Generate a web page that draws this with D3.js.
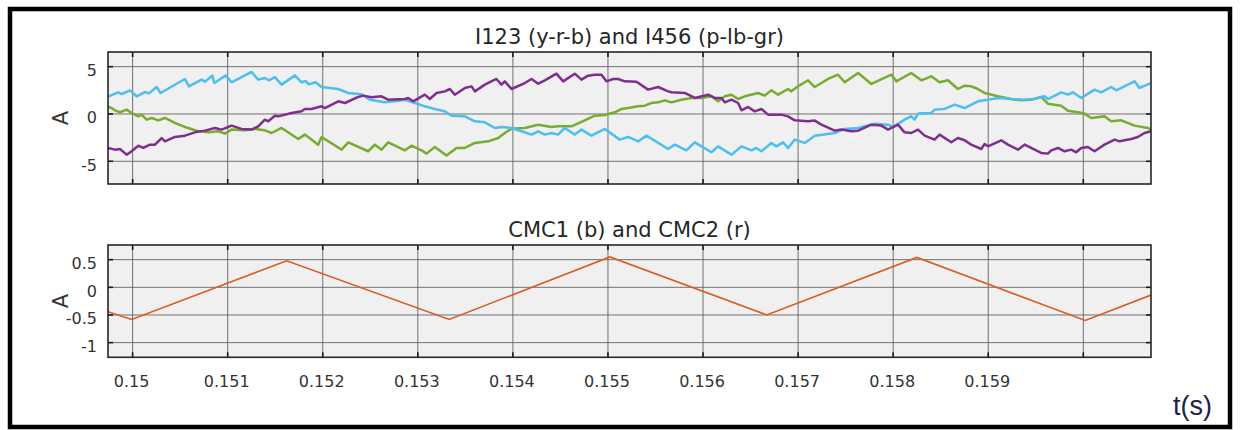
<!DOCTYPE html>
<html>
<head>
<meta charset="utf-8">
<script src="https://cdn.jsdelivr.net/npm/d3@7"></script>
<style>
  html, body { margin: 0; padding: 0; background: #ffffff; }
  svg { display: block; }
</style>
</head>
<body>
<div id="chart"></div>
<script>
// ---------- DATA (time in ms, current in A) ----------
const xTickValues = [0.150, 0.151, 0.152, 0.153, 0.154, 0.155, 0.156, 0.157, 0.158, 0.159, 0.160];
const xTickLabels = ["0.15", "0.151", "0.152", "0.153", "0.154", "0.155", "0.156", "0.157", "0.158", "0.159", ""];
const topYTicks = [5, 0, -5];
const botYTicks = [0.5, 0, -0.5, -1];
const topTitle = "I123 (y-r-b) and I456 (p-lb-gr)";
const botTitle = "CMC1 (b) and CMC2 (r)";
const yLabel = "A";
const xLabel = "t(s)";

const currentBlue = [
[149.740,1.83],[149.849,2.29],[149.884,2.11],[149.972,2.50],[150.042,1.87],[150.130,2.32],[150.172,2.18],[150.252,2.85],[150.294,2.22],[150.550,3.70],[150.592,2.92],[150.725,3.63],[150.761,3.42],[150.838,4.05],[150.859,3.27],[150.978,4.05],[151.041,3.35],[151.251,4.44],[151.321,3.63],[151.391,3.80],[151.433,3.56],[151.497,3.90],[151.567,3.10],[151.707,4.08],[151.777,3.35],[151.819,3.49],[151.854,3.13],[151.924,3.35],[151.987,2.85],[152.163,2.64],[152.268,2.22],[152.408,2.08],[152.496,1.51],
[152.653,1.23],[152.758,1.34],[152.864,1.51],[152.969,1.16],[153.074,0.81],[153.179,0.53],[153.284,0.28],[153.354,-0.18],[153.495,-0.25],[153.600,-0.77],[153.705,-0.88],[153.810,-1.48],[153.880,-1.37],[153.985,-1.48],[154.090,-1.83],[154.196,-2.18],[154.266,-1.83],[154.336,-2.18],[154.406,-2.01],[154.476,-2.18],[154.546,-1.48],[154.651,-2.18],[154.721,-1.65],[154.826,-2.29],[154.967,-1.58],[155.124,-2.71],[155.212,-2.43],
[155.317,-2.90],[155.405,-2.29],[155.633,-3.70],[155.703,-3.24],[155.825,-3.84],[155.913,-3.00],[156.088,-4.05],[156.158,-3.42],[156.299,-4.30],[156.404,-3.42],[156.509,-3.84],[156.561,-3.59],[156.614,-3.94],[156.719,-3.06],[156.772,-3.42],[156.842,-3.00],[156.894,-3.59],[156.965,-2.71],[157.070,-3.06],[157.175,-2.29],[157.385,-2.01],[157.490,-1.58],[157.631,-1.48],[157.806,-1.02],[157.946,-1.13],
[157.998,-1.37],[158.120,-0.60],[158.190,-0.25],[158.225,-0.60],[158.261,0.04],[158.401,0.11],[158.436,0.46],[158.541,0.53],[158.646,0.99],[158.751,0.63],[158.891,1.34],[158.997,1.51],[159.102,1.69],[159.242,1.58],[159.382,1.51],[159.487,1.58],[159.592,1.87],[159.627,1.58],[159.768,2.29],[159.838,2.04],[159.890,2.29],[159.978,1.69],[160.118,2.57],[160.188,2.29],[160.293,2.85],[160.346,2.50],[160.539,3.45],[160.591,2.75],[160.712,3.27]
];

const currentPurple = [
[149.740,-3.59],[149.814,-3.77],[149.867,-3.70],[149.937,-4.30],[149.989,-3.94],[150.060,-3.35],[150.112,-3.59],[150.182,-3.24],[150.235,-3.24],[150.305,-2.54],[150.340,-2.89],[150.445,-2.43],[150.550,-2.29],[150.655,-1.94],[150.761,-1.76],[150.866,-1.48],[150.936,-1.65],[151.041,-1.23],[151.146,-1.58],[151.251,-1.65],[151.321,-1.30],[151.391,-0.60],[151.426,-0.77],[151.497,-0.18],[151.532,-0.25],[151.672,0.11],[151.777,0.28],[151.812,0.53],[151.882,0.53],[151.987,0.81],[152.022,0.63],[152.163,1.34],[152.233,1.16],[152.373,1.80],[152.425,1.94],[152.513,1.76],
[152.618,1.87],[152.688,1.51],[152.864,1.58],[152.899,1.69],[152.951,1.34],[153.074,2.04],[153.126,1.58],[153.197,2.22],[153.284,2.39],[153.337,2.64],[153.389,2.04],[153.495,2.75],[153.565,2.92],[153.600,2.39],[153.705,3.10],[153.827,3.70],[153.880,3.10],[153.915,3.45],[153.985,2.64],[154.125,3.27],[154.196,3.70],[154.266,3.20],[154.336,3.56],[154.458,4.26],[154.529,3.45],[154.651,4.26],[154.721,3.63],[154.791,4.05],[154.861,4.15],[154.932,4.15],[154.984,3.45],[155.054,3.70],[155.107,3.70],[155.177,3.45],[155.300,3.40],
[155.422,2.57],[155.528,2.85],[155.633,2.39],[155.668,2.29],[155.808,2.22],[155.913,1.69],[156.053,2.04],[156.123,1.69],[156.193,1.69],[156.229,1.23],[156.299,1.51],[156.369,1.16],[156.404,0.39],[156.474,0.74],[156.544,0.28],[156.614,0.53],[156.684,-0.07],[156.824,-0.07],[156.894,-0.25],[156.965,-0.67],[157.105,-0.77],[157.175,-0.70],[157.245,-1.13],[157.385,-1.76],[157.455,-1.65],[157.560,-1.83],[157.631,-1.76],[157.771,-1.13],[157.876,-1.23],[157.946,-1.65],
[158.050,-1.13],[158.120,-1.94],[158.190,-2.01],[158.261,-1.65],[158.331,-2.29],[158.436,-2.71],[158.488,-2.18],[158.611,-2.99],[158.681,-2.54],[158.751,-2.78],[158.821,-3.24],[158.927,-3.70],[158.962,-3.17],[158.997,-3.42],[159.137,-2.78],[159.207,-3.24],[159.312,-3.77],[159.382,-3.24],[159.557,-4.12],[159.627,-4.19],[159.663,-3.84],[159.733,-3.59],[159.803,-3.94],[159.873,-3.77],[159.925,-4.05],[159.978,-3.59],[160.048,-3.49],[160.118,-3.94],[160.223,-3.24],[160.329,-2.71],[160.381,-2.89],[160.434,-2.78],[160.504,-2.64],[160.574,-2.43],[160.644,-2.01],[160.712,-1.83]
];

const currentGreen = [
[149.740,0.74],[149.779,0.63],[149.814,0.39],[149.867,0.18],[149.937,0.46],[149.989,0.11],[150.060,-0.25],[150.095,-0.07],[150.147,-0.60],[150.200,-0.42],[150.270,-0.67],[150.340,-0.42],[150.445,-0.95],[150.550,-1.37],[150.690,-1.83],[150.796,-1.94],[150.901,-1.83],[150.971,-2.08],[151.041,-1.65],[151.181,-1.73],[151.286,-1.58],[151.391,-1.73],[151.462,-2.01],[151.567,-1.48],[151.742,-2.64],[151.812,-2.18],[151.952,-3.24],[151.987,-2.43],[152.198,-3.77],[152.268,-3.00],[152.478,-3.94],[152.548,-3.24],
[152.618,-3.77],[152.688,-3.00],[152.864,-3.84],[152.934,-3.35],[153.039,-3.84],[153.091,-4.19],[153.179,-3.49],[153.302,-4.40],[153.407,-3.59],[153.495,-3.59],[153.600,-3.06],[153.740,-2.89],[153.845,-2.54],[153.915,-2.01],[153.985,-1.55],[154.125,-1.48],[154.266,-1.13],[154.406,-1.37],[154.476,-1.30],[154.616,-1.30],[154.756,-0.67],[154.861,-0.18],[154.967,-0.11],[155.072,0.18],[155.142,0.53],[155.212,0.63],
[155.317,0.81],[155.387,0.88],[155.457,1.16],[155.528,1.23],[155.598,1.44],[155.668,1.23],[155.773,1.51],[155.878,1.69],[155.983,1.69],[156.088,1.87],[156.158,1.34],[156.229,1.87],[156.299,2.04],[156.369,1.58],[156.439,1.87],[156.579,2.22],[156.649,1.94],[156.719,2.50],[156.789,2.04],[156.894,2.64],[156.929,2.39],[156.999,2.92],[157.105,3.56],[157.175,2.85],[157.315,3.70],[157.420,4.15],[157.490,3.35],[157.631,4.33],[157.771,3.17],[157.981,4.15],
[158.033,3.45],[158.190,4.33],[158.296,3.56],[158.401,3.98],[158.488,3.35],[158.576,3.56],[158.681,2.64],[158.751,2.99],[158.821,2.92],[158.891,2.64],[158.962,2.22],[159.102,1.87],[159.242,1.58],[159.347,1.44],[159.452,1.51],[159.557,1.80],[159.627,1.09],[159.768,0.88],[159.838,0.35],[159.943,0.18],[160.013,0.04],[160.083,-0.42],[160.223,-0.25],[160.293,-0.77],[160.399,-0.67],[160.539,-1.23],[160.679,-1.48],[160.712,-1.65]
];

const cmcTimeMs = [149.741, 149.990, 151.620, 153.330, 155.020, 156.670, 158.250, 160.020, 160.712];
const cmcValue  = [-0.44, -0.58, 0.48, -0.58, 0.55, -0.50, 0.54, -0.60, -0.14];

// ---------- LAYOUT ----------
const W = 1240, H = 430;
const plotLeft = 108, plotRight = 1151;
const topPanelCfg = { top: 52, bottom: 184, domain: [-7.4, 6.55] };
const botPanelCfg = { top: 245, bottom: 357.3, domain: [-1.265, 0.765] };
const colors = { blue: "#4dbeee", purple: "#7e2f8e", green: "#77ac30", orange: "#dc5a24" };
const textColor = "#333333";

const svg = d3.select("#chart").append("svg").attr("width", W).attr("height", H);

// outer frame
svg.append("rect").attr("x", 0).attr("y", 0).attr("width", W).attr("height", H).attr("fill", "#ffffff");
svg.append("rect").attr("x", 10).attr("y", 9).attr("width", 1220).attr("height", 418)
  .attr("fill", "#ffffff").attr("stroke", "#000").attr("stroke-width", 4.5);

const xScale = d3.scaleLinear().domain([0.149741, 0.160712]).range([plotLeft, plotRight]);

function drawPanel(p, yTicks, title, showXLabels, clipId) {
  const y = d3.scaleLinear().domain(p.domain).range([p.bottom, p.top]);
  const g = svg.append("g");
  g.append("rect").attr("x", plotLeft).attr("y", p.top)
    .attr("width", plotRight - plotLeft).attr("height", p.bottom - p.top)
    .attr("fill", "#f0f0f0");
  // grid
  g.selectAll(".gx").data(xTickValues).enter().append("line")
    .attr("x1", d => xScale(d)).attr("x2", d => xScale(d)).attr("y1", p.top).attr("y2", p.bottom)
    .attr("stroke", "#5c5c5c").attr("stroke-width", 1).attr("opacity", 0.85);
  g.selectAll(".gy").data(yTicks).enter().append("line")
    .attr("x1", plotLeft).attr("x2", plotRight).attr("y1", d => y(d)).attr("y2", d => y(d))
    .attr("stroke", "#5c5c5c").attr("stroke-width", 1).attr("opacity", 0.85);
  // inward ticks
  const tl = 5;
  xTickValues.forEach(v => {
    g.append("line").attr("x1", xScale(v)).attr("x2", xScale(v)).attr("y1", p.bottom).attr("y2", p.bottom - tl)
      .attr("stroke", "#1a1a1a").attr("stroke-width", 1.6);
    g.append("line").attr("x1", xScale(v)).attr("x2", xScale(v)).attr("y1", p.top).attr("y2", p.top + tl)
      .attr("stroke", "#1a1a1a").attr("stroke-width", 1.6);
  });
  yTicks.forEach(v => {
    g.append("line").attr("x1", plotLeft).attr("x2", plotLeft + tl).attr("y1", y(v)).attr("y2", y(v))
      .attr("stroke", "#1a1a1a").attr("stroke-width", 1.6);
    g.append("line").attr("x1", plotRight).attr("x2", plotRight - tl).attr("y1", y(v)).attr("y2", y(v))
      .attr("stroke", "#1a1a1a").attr("stroke-width", 1.6);
  });
  // clip
  svg.append("clipPath").attr("id", clipId).append("rect")
    .attr("x", plotLeft).attr("y", p.top).attr("width", plotRight - plotLeft).attr("height", p.bottom - p.top);
  const lines = svg.append("g").attr("clip-path", `url(#${clipId})`);
  // box
  svg.append("rect").attr("x", plotLeft).attr("y", p.top)
    .attr("width", plotRight - plotLeft).attr("height", p.bottom - p.top)
    .attr("fill", "none").attr("stroke", "#262626").attr("stroke-width", 1.6);
  // y tick labels
  svg.selectAll(null).data(yTicks).enter().append("text")
    .attr("x", 97).attr("y", d => y(d) + 9.3)
    .attr("text-anchor", "end")
    .attr("font-family", "DejaVu Sans, sans-serif").attr("font-size", 16)
    .attr("fill", textColor).text(d => String(d));
  // y label
  svg.append("text")
    .attr("transform", `translate(68,${(p.top + p.bottom) / 2}) rotate(-90)`)
    .attr("text-anchor", "middle")
    .attr("font-family", "DejaVu Sans, sans-serif").attr("font-size", 21)
    .attr("fill", textColor).text(yLabel);
  // title
  svg.append("text").attr("x", (plotLeft + plotRight) / 2).attr("y", p.top - 8)
    .attr("text-anchor", "middle")
    .attr("font-family", "DejaVu Sans, sans-serif").attr("font-size", 21)
    .attr("fill", "#262626").text(title);
  if (showXLabels) {
    svg.selectAll(null).data(xTickValues).enter().append("text")
      .attr("x", d => xScale(d) - 1).attr("y", 386.7)
      .attr("text-anchor", "middle")
      .attr("font-family", "DejaVu Sans, sans-serif").attr("font-size", 16)
      .attr("fill", textColor).text((d, i) => xTickLabels[i]);
  }
  return { y, lines };
}

const topPanel = drawPanel(topPanelCfg, topYTicks, topTitle, false, "clipTop");
const lineTop = d3.line().x(d => xScale(d[0] / 1000)).y(d => topPanel.y(d[1]));
[[currentGreen, colors.green], [currentBlue, colors.blue], [currentPurple, colors.purple]].forEach(([data, c]) => {
  topPanel.lines.append("path").datum(data).attr("d", lineTop)
    .attr("fill", "none").attr("stroke", c).attr("stroke-width", 2.5)
    .attr("stroke-linejoin", "round");
});

const botPanel = drawPanel(botPanelCfg, botYTicks, botTitle, true, "clipBot");
const cmcData = cmcTimeMs.map((t, i) => [t, cmcValue[i]]);
const lineBot = d3.line().x(d => xScale(d[0] / 1000)).y(d => botPanel.y(d[1]));
botPanel.lines.append("path").datum(cmcData).attr("d", lineBot)
  .attr("fill", "none").attr("stroke", colors.orange).attr("stroke-width", 1.6);

// x axis label
svg.append("text").attr("x", 1173).attr("y", 415)
  .attr("font-family", "Liberation Sans, Arial, sans-serif").attr("font-size", 27)
  .attr("fill", "#1b2444").text(xLabel);
</script>
</body>
</html>
